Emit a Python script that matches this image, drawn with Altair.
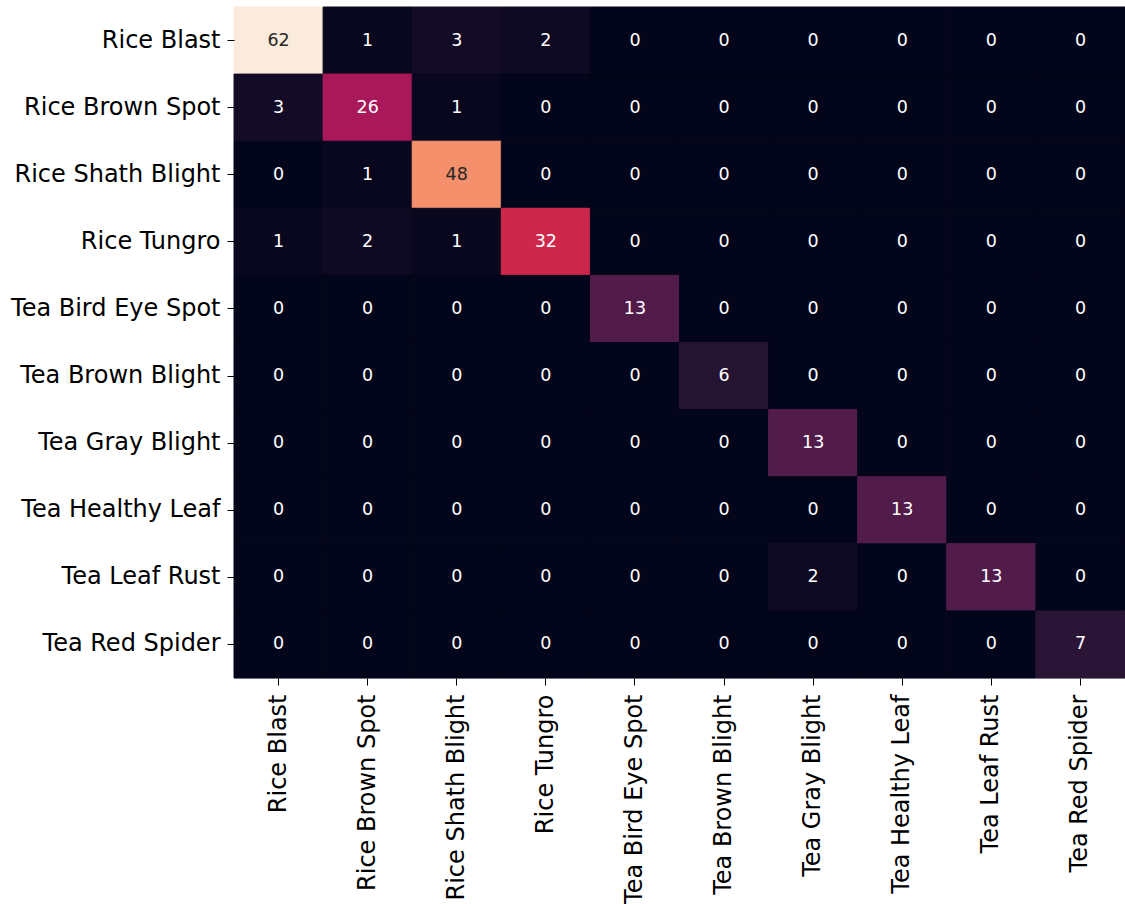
import altair as alt
import pandas as pd

classes = [
    "Rice Blast", "Rice Brown Spot", "Rice Shath Blight", "Rice Tungro",
    "Tea Bird Eye Spot", "Tea Brown Blight", "Tea Gray Blight",
    "Tea Healthy Leaf", "Tea Leaf Rust", "Tea Red Spider",
]

# confusion matrix: rows = true class, columns = predicted class
row_rice_blast = [62, 1, 3, 2, 0, 0, 0, 0, 0, 0]
row_rice_brown_spot = [3, 26, 1, 0, 0, 0, 0, 0, 0, 0]
row_rice_shath_blight = [0, 1, 48, 0, 0, 0, 0, 0, 0, 0]
row_rice_tungro = [1, 2, 1, 32, 0, 0, 0, 0, 0, 0]
row_tea_bird_eye_spot = [0, 0, 0, 0, 13, 0, 0, 0, 0, 0]
row_tea_brown_blight = [0, 0, 0, 0, 0, 6, 0, 0, 0, 0]
row_tea_gray_blight = [0, 0, 0, 0, 0, 0, 13, 0, 0, 0]
row_tea_healthy_leaf = [0, 0, 0, 0, 0, 0, 0, 13, 0, 0]
row_tea_leaf_rust = [0, 0, 0, 0, 0, 0, 2, 0, 13, 0]
row_tea_red_spider = [0, 0, 0, 0, 0, 0, 0, 0, 0, 7]

matrix = [
    row_rice_blast, row_rice_brown_spot, row_rice_shath_blight, row_rice_tungro,
    row_tea_bird_eye_spot, row_tea_brown_blight, row_tea_gray_blight,
    row_tea_healthy_leaf, row_tea_leaf_rust, row_tea_red_spider,
]

records = []
for i, true_cls in enumerate(classes):
    for j, pred_cls in enumerate(classes):
        records.append({"true": true_cls, "pred": pred_cls, "value": matrix[i][j]})
df = pd.DataFrame(records)

# "rocket" colour ramp
rocket = ["#03051A", "#35193E", "#701F57", "#AD1759",
          "#E13342", "#F37651", "#F6B48F", "#FAEBDD"]
vmax = 62
stops = [vmax * k / 7 for k in range(8)]
color_scale = alt.Scale(domain=stops, range=rocket, interpolate="rgb")

FONT = "DejaVu Sans"
LABEL_SIZE = 24

x_enc = alt.X(
    "pred:N", sort=classes, title=None,
    scale=alt.Scale(paddingInner=0, paddingOuter=0),
    axis=alt.Axis(labelAngle=-90, labelAlign="right", labelBaseline="middle",
                  labelFontSize=LABEL_SIZE, labelFont=FONT, labelColor="#000000",
                  labelLimit=0, tickSize=7, tickColor="#000000", tickWidth=1,
                  labelPadding=9, domain=False, grid=False),
)
y_enc = alt.Y(
    "true:N", sort=classes, title=None,
    scale=alt.Scale(paddingInner=0, paddingOuter=0),
    axis=alt.Axis(labelFontSize=LABEL_SIZE, labelFont=FONT, labelColor="#000000",
                  labelLimit=0, tickSize=7, tickColor="#000000", tickWidth=1,
                  labelPadding=7, domain=False, grid=False),
)

# stroke each cell in its own fill colour so neighbouring cells leave no seams
cells = alt.Chart(df).mark_rect(strokeWidth=1).encode(
    x=x_enc,
    y=y_enc,
    color=alt.Color("value:Q", legend=None, scale=color_scale),
    stroke=alt.Stroke("value:Q", legend=None, scale=color_scale),
)

labels = alt.Chart(df).mark_text(font=FONT, fontSize=17.5, baseline="middle", align="center").encode(
    x=alt.X("pred:N", sort=classes),
    y=alt.Y("true:N", sort=classes),
    text="value:Q",
    color=alt.condition(alt.datum.value > 40, alt.value("#262626"), alt.value("#ffffff")),
)

chart = (
    alt.layer(cells, labels)
    .resolve_scale(color="independent")
    .properties(
        width=891, height=671,
        autosize=alt.AutoSizeParams(type="none"),
        padding={"left": 234, "top": 7, "right": 0, "bottom": 226},
    )
    .configure_view(strokeWidth=0)
    .configure(background="#ffffff")
)

chart.save("out.html", embed_options={"renderer": "svg", "actions": False})
